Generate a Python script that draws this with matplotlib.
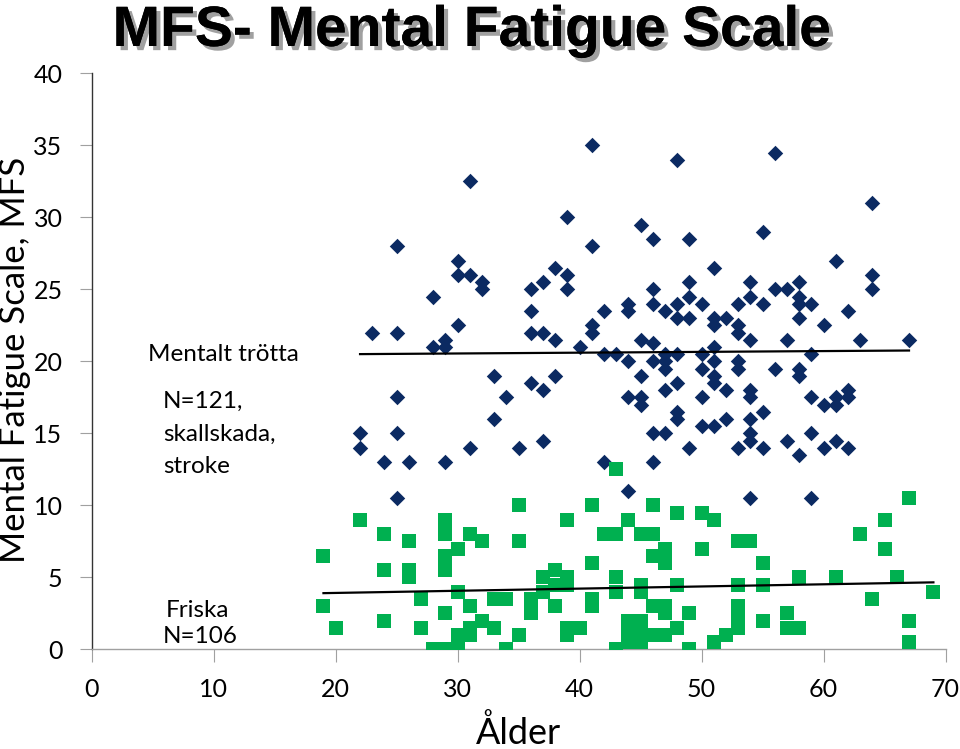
import matplotlib
matplotlib.use("Agg")
import matplotlib.pyplot as plt
import matplotlib.patheffects as pe
import numpy as np

# Mentalt trötta (skallskada, stroke): age, MFS
trotta_age = [41, 31, 39, 25, 41, 30, 38, 30, 31, 39, 32, 32, 37, 36, 39, 28, 36, 42, 44, 44,
              30, 23, 25, 36, 37, 41, 41, 38, 29, 29, 28, 40, 42, 43, 44, 33, 38, 48, 56, 64,
              45, 46, 49, 55, 61, 51, 64, 64, 49, 54, 58, 46, 56, 57, 49, 54, 58, 46, 48, 50,
              53, 55, 58, 59, 47, 62, 48, 49, 51, 52, 58, 51, 53, 53, 60, 45, 46, 54, 57, 63,
              67, 51, 46, 47, 47, 47, 48, 50, 50, 51, 51, 53, 53, 56, 58, 58, 59, 45, 36, 37,
              25, 34, 44, 33, 22, 25, 22, 31, 35, 37, 24, 26, 29, 42, 25, 44, 48, 51, 45, 45,
              47, 50, 52, 54, 54, 55, 59, 60, 61, 61, 62, 62, 48, 48, 50, 51, 52, 54, 46, 47,
              54, 54, 59, 57, 61, 49, 53, 55, 60, 62, 58, 46, 54, 59]
trotta_mfs = [35, 32.5, 30, 28, 28, 27, 26.5, 26, 26, 26, 25.5, 25, 25.5, 25, 25, 24.5, 23.5, 23.5, 24, 23.5,
              22.5, 22, 22, 22, 22, 22.5, 22, 21.5, 21.5, 21, 21, 21, 20.5, 20.5, 20, 19, 19, 34, 34.5, 31,
              29.5, 28.5, 28.5, 29, 27, 26.5, 26, 25, 25.5, 25.5, 25.5, 25, 25, 25, 24.5, 24.5, 24.5, 24, 24, 24,
              24, 24, 24, 24, 23.5, 23.5, 23, 23, 23, 23, 23, 22.5, 22.5, 22, 22.5, 21.5, 21.3, 21.5, 21.5, 21.5,
              21.5, 21, 20, 20.5, 20, 19.5, 20.5, 20.5, 19.5, 20, 19, 20, 19.5, 19.5, 19.5, 19, 20.5, 19, 18.5, 18,
              17.5, 17.5, 17.5, 16, 15, 15, 14, 14, 14, 14.5, 13, 13, 13, 13, 10.5, 11, 18.5, 18.5, 17.5, 17,
              18, 17.5, 18, 18, 17.5, 16.5, 17.5, 17, 17.5, 17, 18, 17.5, 16.5, 16, 15.5, 15.5, 16, 16, 15, 15,
              15, 14.5, 15, 14.5, 14.5, 14, 14, 14, 14, 14, 13.5, 13, 10.5, 10.5]

# Friska: age, MFS
friska_age = [35, 41, 22, 29, 39, 44, 24, 29, 31, 42, 43, 26, 32, 35, 30, 19, 29, 41, 24, 26,
              26, 29, 38, 37, 39, 38, 39, 37, 43, 43, 30, 19, 27, 31, 33, 34, 36, 38, 41, 41,
              29, 36, 24, 32, 44, 20, 27, 31, 31, 33, 39, 39, 40, 30, 35, 44, 28, 29, 30, 34,
              43, 43, 67, 46, 48, 50, 51, 65, 45, 46, 63, 47, 46, 47, 50, 53, 54, 65, 55, 58,
              61, 66, 45, 45, 48, 53, 55, 69, 64, 46, 47, 47, 49, 53, 53, 53, 53, 55, 57, 57,
              58, 67, 44, 45, 45, 45, 46, 47, 48, 49, 51, 52, 67]
friska_mfs = [10, 10, 9, 9, 9, 9, 8, 8, 8, 8, 8, 7.5, 7.5, 7.5, 7, 6.5, 6.5, 6, 5.5, 5.5,
              5, 5.5, 5.5, 5, 5, 4.5, 4.5, 4, 5, 4, 4, 3, 3.5, 3, 3.5, 3.5, 3.5, 3, 3.5, 3,
              2.5, 2.5, 2, 2, 2, 1.5, 1.5, 1.5, 1, 1.5, 1.5, 1, 1.5, 1, 1, 0.5, 0, 0, 0, 0,
              0, 12.5, 10.5, 10, 9.5, 9.5, 9, 9, 8, 8, 8, 7, 6.5, 6, 7, 7.5, 7.5, 7, 6, 5,
              5, 5, 4.5, 4, 4.5, 4.5, 4.5, 4, 3.5, 3, 3, 2.5, 2.5, 3, 2.5, 2, 1.5, 2, 2.5, 1.5,
              1.5, 2, 1.5, 2, 1.5, 0.5, 1, 1, 1.5, 0, 0.5, 1, 0.5]

# Trend lines (endpoints)
trotta_trend_x = [22, 67]
trotta_trend_y = [20.5, 20.75]
friska_trend_x = [19, 69]
friska_trend_y = [3.9, 4.65]

x_ticks = [0, 10, 20, 30, 40, 50, 60, 70]
y_ticks = [0, 5, 10, 15, 20, 25, 30, 35, 40]

title = "MFS- Mental Fatigue Scale"
xlabel = "Ålder"
ylabel = "Mental Fatigue Scale, MFS"

BLUE = "#0b2a62"
GREEN = "#00b050"
FONT = ["Lato", "DejaVu Sans"]

fig = plt.figure(figsize=(9.6, 7.49), dpi=100)
ax = fig.add_axes([0.0955, 0.1331, 0.8895, 0.769])

ax.scatter(trotta_age, trotta_mfs, marker="D", s=62, color=BLUE, linewidths=0, zorder=3)
ax.scatter(friska_age, friska_mfs, marker="s", s=95, color=GREEN, linewidths=0, zorder=3)
ax.plot(trotta_trend_x, trotta_trend_y, color="black", lw=1.6, zorder=4)
ax.plot(friska_trend_x, friska_trend_y, color="black", lw=1.6, zorder=4)

ax.set_xlim(0, 70)
ax.set_ylim(0, 40)
ax.set_xticks(x_ticks)
ax.set_yticks(y_ticks)
for s in ["top", "right"]:
    ax.spines[s].set_visible(False)
ax.spines["left"].set_color("#333333")
ax.spines["bottom"].set_color("#a0a0a0")
ax.spines["left"].set_linewidth(1.0)
ax.spines["bottom"].set_linewidth(1.0)
ax.tick_params(axis="x", direction="out", length=9, color="#a0a0a0", pad=12, labelsize=18)
ax.tick_params(axis="y", direction="out", length=9, color="#a0a0a0", pad=12, labelsize=18)
for lab in ax.get_xticklabels() + ax.get_yticklabels():
    lab.set_family(FONT)

ax.set_xlabel(xlabel, fontsize=26, family=FONT, labelpad=10)
fig.text(15 / 960, 1 - 360 / 749, ylabel, fontsize=25, family=FONT, rotation=90,
         ha="center", va="center")

ax.text(4.6, 20.0, "Mentalt trötta", fontsize=17.5, family=FONT, va="baseline")
ax.text(5.85, 16.75, "N=121,", fontsize=17.5, family=FONT, va="baseline")
ax.text(5.85, 14.5, "skallskada,", fontsize=17.5, family=FONT, va="baseline")
ax.text(5.85, 12.25, "stroke", fontsize=17.5, family=FONT, va="baseline")
ax.text(6.05, 2.24, "Friska", fontsize=17.5, family=FONT, va="baseline")
ax.text(5.8, 0.44, "N=106", fontsize=17.5, family=FONT, va="baseline")

fig.text(0.492, 1 - 46 / 749, title, fontsize=41, fontweight="bold",
         family=["Liberation Sans Narrow", "Liberation Sans", "DejaVu Sans"],
         ha="center", va="baseline",
         path_effects=[pe.withSimplePatchShadow(offset=(3, -3), shadow_rgbFace="#888888", alpha=0.8),
                       pe.Normal()])

fig.savefig("out.png", dpi=100)
